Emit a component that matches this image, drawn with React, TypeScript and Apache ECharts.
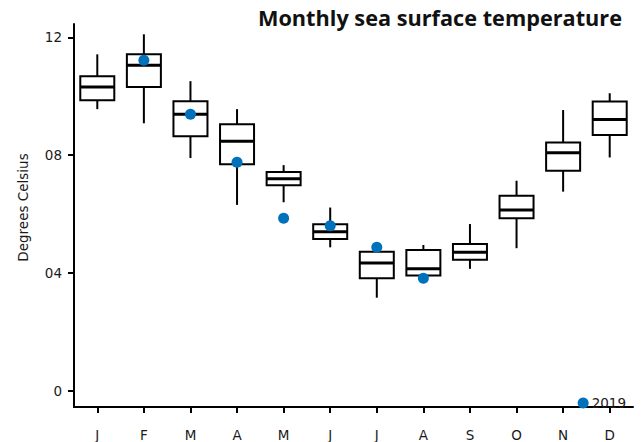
import React, { useEffect, useRef } from "react";
import * as echarts from "echarts";

const months = ["J", "F", "M", "A", "M", "J", "J", "A", "S", "O", "N", "D"];
// [min, Q1, median, Q3, max]
const boxValues = [
  [9.56, 9.86, 10.31, 10.68, 11.42],
  [9.08, 10.31, 11.05, 11.42, 12.1],
  [7.9, 8.64, 9.39, 9.83, 10.51],
  [6.31, 7.69, 8.47, 9.05, 9.56],
  [6.4, 6.98, 7.2, 7.43, 7.66],
  [4.87, 5.15, 5.4, 5.65, 6.22],
  [3.16, 3.82, 4.34, 4.72, 4.86],
  [3.84, 3.91, 4.14, 4.78, 4.95],
  [4.14, 4.45, 4.7, 4.98, 5.66],
  [4.84, 5.86, 6.14, 6.62, 7.13],
  [6.76, 7.47, 8.08, 8.43, 9.53],
  [7.92, 8.68, 9.21, 9.82, 10.1],
];
const values2019: (number | string)[] = ["-", 11.22, 9.39, 7.76, 5.86, 5.6, 4.87, 3.82, "-", "-", "-", "-"];
const yTicks = [0, 4, 8, 12];

const TITLE_FONT = "Open Sans";
const FONT = "DejaVu Sans";

export default function App() {
  const ref = useRef<HTMLDivElement>(null);
  useEffect(() => {
    if (!ref.current) return;
    const chart = echarts.init(ref.current, undefined, { renderer: "svg" });
    const boxData = boxValues.map((b, i) => [i, ...b]);
    chart.setOption({
      animation: false,
      textStyle: { fontFamily: FONT },
      title: {
        text: "Monthly sea surface temperature",
        right: 14,
        top: 1,
        textStyle: { fontFamily: TITLE_FONT, fontWeight: "bold", fontSize: 21.7, color: "#111" },
      },
      legend: {
        data: [{ name: "2019", icon: "circle" }],
        right: 10,
        top: 391,
        itemWidth: 11,
        itemHeight: 11,
        itemGap: 4,
        textStyle: { fontFamily: FONT, fontSize: 13.5, color: "#1a1a1a", padding: [0, 0, 0, -2] },
      },
      grid: { left: 74, right: 8, top: 24, bottom: 34 },
      xAxis: {
        type: "category",
        data: months,
        boundaryGap: true,
        axisLine: { show: true, onZero: false, lineStyle: { color: "#000", width: 2 } },
        axisTick: { show: true, alignWithLabel: true, length: 6, lineStyle: { color: "#000", width: 2 } },
        axisLabel: { color: "#1a1a1a", fontSize: 13.5, margin: 21, fontFamily: FONT },
        splitLine: { show: false },
      },
      yAxis: {
        type: "value",
        min: -0.55,
        max: 12.45,
        name: "Degrees Celsius",
        nameLocation: "middle",
        nameGap: 44,
        nameTextStyle: { color: "#1a1a1a", fontSize: 13.5, fontFamily: FONT, padding: [0, 0, 0, 16] },
        axisLine: { show: true, lineStyle: { color: "#000", width: 2 } },
        axisTick: { show: true, length: 6, customValues: yTicks, lineStyle: { color: "#000", width: 2 } },
        axisLabel: {
          customValues: yTicks,
          color: "#1a1a1a",
          fontSize: 13.5,
          margin: 12,
          fontFamily: FONT,
          formatter: (v: number) => (v === 0 ? "0" : String(Math.round(v)).padStart(2, "0")),
        },
        splitLine: { show: false },
      },
      series: [
        {
          name: "box",
          type: "custom",
          data: boxData,
          encode: { x: 0, y: [1, 2, 3, 4, 5] },
          z: 2,
          renderItem: (params: any, api: any) => {
            const x = api.value(0);
            const pMin = api.coord([x, api.value(1)]);
            const pQ1 = api.coord([x, api.value(2)]);
            const pMed = api.coord([x, api.value(3)]);
            const pQ3 = api.coord([x, api.value(4)]);
            const pMax = api.coord([x, api.value(5)]);
            const w = api.size([1, 0])[0] * 0.73;
            const cx = pMed[0];
            const stroke = { stroke: "#000", lineWidth: 2 };
            return {
              type: "group",
              children: [
                { type: "line", shape: { x1: cx, y1: pMax[1], x2: cx, y2: pQ3[1] }, style: stroke },
                { type: "line", shape: { x1: cx, y1: pQ1[1], x2: cx, y2: pMin[1] }, style: stroke },
                {
                  type: "rect",
                  shape: { x: cx - w / 2, y: pQ3[1], width: w, height: pQ1[1] - pQ3[1] },
                  style: { fill: "#fff", stroke: "#000", lineWidth: 2 },
                },
                {
                  type: "line",
                  shape: { x1: cx - w / 2, y1: pMed[1], x2: cx + w / 2, y2: pMed[1] },
                  style: { stroke: "#000", lineWidth: 3 },
                },
              ],
            };
          },
        },
        {
          name: "2019",
          type: "scatter",
          data: values2019,
          symbol: "circle",
          symbolSize: 11,
          itemStyle: { color: "#0072bc", opacity: 1 },
          z: 3,
        },
      ],
    });
    return () => chart.dispose();
  }, []);
  return <div ref={ref} style={{ width: 641, height: 442, position: "absolute", left: 0, top: 0 }} />;
}
